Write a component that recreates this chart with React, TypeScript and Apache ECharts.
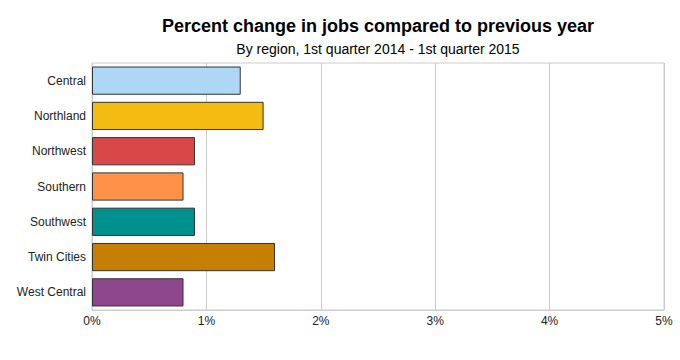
import React, { useEffect, useRef } from "react";
import * as echarts from "echarts";

const categories = ["Central", "Northland", "Northwest", "Southern", "Southwest", "Twin Cities", "West Central"];
const values = [1.3, 1.5, 0.9, 0.8, 0.9, 1.6, 0.8];
const colors = ["#aed6f5", "#f4bb12", "#d94848", "#ff9248", "#00908e", "#c67f05", "#8e478c"];
const titleText = "Percent change in jobs compared to previous year";
const subtitleText = "By region, 1st quarter 2014 - 1st quarter 2015";

export default function App() {
  const ref = useRef<HTMLDivElement>(null);
  useEffect(() => {
    document.body.style.margin = "0";
    const chart = echarts.init(ref.current!, null, { renderer: "svg" });
    const font = "Liberation Sans, Arial, sans-serif";
    chart.setOption({
      animation: false,
      backgroundColor: "#ffffff",
      textStyle: { fontFamily: font },
      title: [
        {
          text: titleText,
          left: 373,
          top: 12,
          textAlign: "center",
          textStyle: { fontSize: 18, fontWeight: "bold", color: "#000", fontFamily: font },
        },
        {
          text: subtitleText,
          left: 373,
          top: 37,
          textAlign: "center",
          textStyle: { fontSize: 14, fontWeight: "normal", color: "#000", fontFamily: font },
        },
      ],
      grid: {
        left: 92,
        right: 16,
        top: 63,
        bottom: 50,
        show: true,
        borderColor: "#cccccc",
        borderWidth: 1,
      },
      xAxis: {
        type: "value",
        min: 0,
        max: 5,
        interval: 1,
        axisLine: { show: true, lineStyle: { color: "#cccccc" } },
        axisTick: { show: false },
        splitLine: { show: true, lineStyle: { color: "#cccccc" } },
        axisLabel: {
          formatter: "{value}%",
          fontSize: 12,
          color: "#222",
          margin: 5,
          fontFamily: font,
        },
      },
      yAxis: {
        type: "category",
        data: categories,
        inverse: true,
        axisLine: { show: true, lineStyle: { color: "#cccccc" } },
        axisTick: { show: false },
        axisLabel: { fontSize: 12, color: "#222", margin: 6, fontFamily: font },
      },
      series: [
        {
          type: "bar",
          data: values.map((v, i) => ({ value: v, itemStyle: { color: colors[i] } })),
          barCategoryGap: "20%",
          itemStyle: { borderColor: "#333333", borderWidth: 1 },
        },
      ],
    });
    return () => chart.dispose();
  }, []);
  return <div ref={ref} style={{ width: 680, height: 360 }} />;
}
